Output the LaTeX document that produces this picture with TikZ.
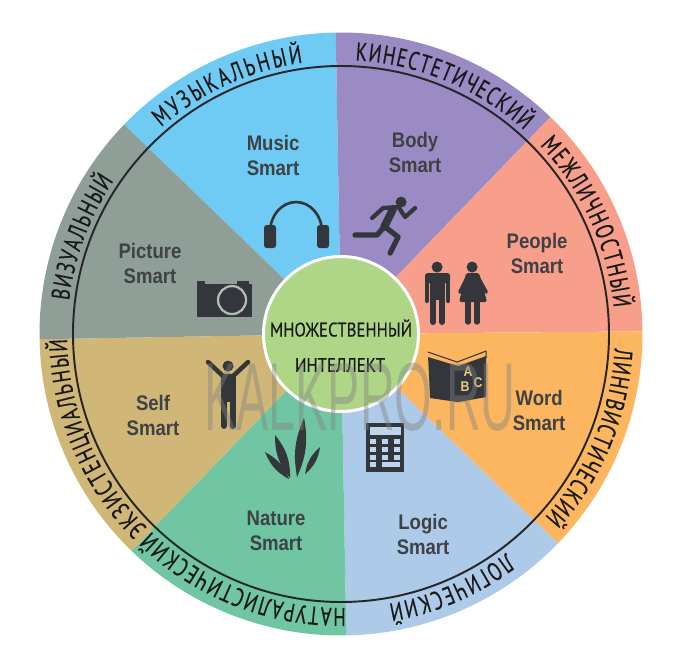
\documentclass[tikz,border=0pt]{standalone}
\usepackage{fontspec}
\usetikzlibrary{decorations.text}
\newfontfamily\ringfont[FakeStretch=.72,FakeBold=.4]{PT Sans}
\newfontfamily\coreFont[FakeStretch=.85,FakeBold=.4]{PT Sans}
\newfontfamily\labelfont[FakeStretch=.88]{Liberation Sans}
\newfontfamily\markfont[FakeStretch=.5]{Liberation Sans}
\definecolor{music_blue}{HTML}{6FCBF3}
\definecolor{body_violet}{HTML}{9A8BC5}
\definecolor{people_pink}{HTML}{F79F8A}
\definecolor{word_orange}{HTML}{FCB660}
\definecolor{logic_blue}{HTML}{AECAE9}
\definecolor{nature_green}{HTML}{70C6A2}
\definecolor{self_tan}{HTML}{D1B777}
\definecolor{picture_grey}{HTML}{8F9F97}
\definecolor{core_green}{HTML}{AFD687}
\definecolor{icon_dark}{HTML}{33363A}
\definecolor{label_dark}{HTML}{3E4246}
\definecolor{book_yellow}{HTML}{EBCB80}
\begin{document}
\begin{tikzpicture}
  \tikzset{
    ring_line/.style={draw=black!85, line width=1.1pt},
    icon_fill/.style={fill=icon_dark},
    icon_line/.style={draw=icon_dark, line cap=round, line join=round},
    smart_label/.style={align=center, text=label_dark, font=\labelfont\bfseries\fontsize{12}{14.2}\selectfont},
    core_label/.style={text=black!90, font=\coreFont\fontsize{11.2}{12}\selectfont},
    ring_label/.style={decorate, decoration={text along path, text align={fit to path}, text={|\ringfont\fontsize{14.6}{15}\selectfont\color{black!90}|#1}}}
  }
  \useasboundingbox (-6.82,-6.74) rectangle (6.94,6.68);

  % sectors
  \foreach \from/\to/\col in {136/91/music_blue, 91/46/body_violet, 46/0.5/people_pink, 0.5/-44/word_orange,
    -44/-89/logic_blue, -89/-134/nature_green, -134/-179/self_tan, 181/136/picture_grey}
    \fill[\col] (0,0) -- (\from:6.03) arc[start angle=\from, end angle=\to, radius=6.03] -- cycle;

  % ring and its words
  \draw[ring_line] (0,0) circle (5.36);
  \foreach \from/\to/\word in {131/98/МУЗЫКАЛЬНЫЙ, 87/48/КИНЕСТЕТИЧЕСКИЙ, 43.5/5.5/МЕЖЛИЧНОСТНЫЙ, -3/-42/ЛИНГВИСТИЧЕСКИЙ,
    -53/-80/ЛОГИЧЕСКИЙ, -89/-134/НАТУРАЛИСТИЧЕСКИЙ, -135/-179/ЭКЗИСТЕНЦИАЛЬНЫЙ, 173/146/ВИЗУАЛЬНЫЙ}
    \path[ring_label=\word] (\from:5.48) arc[start angle=\from, end angle=\to, radius=5.48];

  % middle
  \node[circle, fill=core_green, draw=white, line width=1.7pt, minimum size=3.1cm, inner sep=0pt] (core) at (0,0) {};

  % everything below is in pixels of the sheet
  \begin{scope}[shift={(-6.82,6.68)}, x=0.02cm, y=-0.02cm]
    \node[core_label] (core_top) at (341,328) {МНОЖЕСТВЕННЫЙ};
    \node[core_label] (core_bottom) at (340,365) {ИНТЕЛЛЕКТ};

    % labels
    \node[smart_label] (lbl_music) at (273,155) {Music\\Smart};
    \node[smart_label] (lbl_body) at (415,152) {Body\\Smart};
    \node[smart_label] (lbl_people) at (537,253) {People\\Smart};
    \node[smart_label] (lbl_word) at (539,410) {Word\\Smart};
    \node[smart_label] (lbl_logic) at (423,534) {Logic\\Smart};
    \node[smart_label] (lbl_nature) at (276,531) {Nature\\Smart};
    \node[smart_label] (lbl_self) at (153,415) {Self\\Smart};
    \node[smart_label] (lbl_picture) at (150,263) {Picture\\Smart};

    % headphones
    \draw[icon_line, line width=1.5pt] (270,232) arc[start angle=180, end angle=360, x radius=26, y radius=30];
    \fill[icon_fill, rounded corners=1.5pt] (264,225) rectangle (276,248);
    \fill[icon_fill, rounded corners=1.5pt] (317,225) rectangle (329,248);

    % runner
    \fill[icon_fill] (401,202) circle (5.5);
    \draw[icon_line, line width=2.4pt] (372,218) -- (383,208) -- (397,207);
    \draw[icon_line, line width=2.4pt] (399,208) -- (405,217) -- (415,208);
    \draw[icon_line, line width=4.5pt] (393,209) -- (384,227);
    \draw[icon_line, line width=3pt] (383,228) -- (377,235) -- (355,235);
    \draw[icon_line, line width=3pt] (384,226) -- (398,237) -- (390,253);

    % people
    \fill[icon_fill] (437,267) circle (5.5);
    \fill[icon_fill, rounded corners=1.5pt] (425,273) rectangle (450,283);
    \fill[icon_fill] (430,275) rectangle (445,300);
    \draw[icon_line, line width=2.4pt] (427,277) -- (427,301);
    \draw[icon_line, line width=2.4pt] (448,277) -- (448,301);
    \draw[icon_line, line width=3.4pt] (433,298) -- (433,322);
    \draw[icon_line, line width=3.4pt] (442,298) -- (442,322);
    \fill[icon_fill] (472,267) circle (5.5);
    \fill[icon_fill, rounded corners=1pt] (466,273) -- (479,273) -- (487,302) -- (459,302) -- cycle;
    \draw[icon_line, line width=2.2pt] (468,276) -- (460,292);
    \draw[icon_line, line width=2.2pt] (477,276) -- (486,292);
    \draw[icon_line, line width=3pt] (468,300) -- (468,322);
    \draw[icon_line, line width=3pt] (477,300) -- (477,322);

    % book
    \draw[icon_line, line width=.6pt] (428,352) -- (457,362) -- (486,351) -- (486,358);
    \fill[icon_fill] (428,357) -- (458,366) -- (458,402) -- (430,398) -- cycle;
    \fill[icon_fill] (458,366) -- (486,356) -- (486,397) -- (458,402) -- cycle;
    \foreach \ch/\px/\py in {A/468/372, B/465/387, C/478/383}
      \node[text=book_yellow, inner sep=0pt, font=\labelfont\bfseries\fontsize{8}{8}\selectfont] (book_\ch) at (\px,\py) {\ch};

    % calculator
    \fill[icon_fill] (366,423) rectangle (404,472);
    \fill[logic_blue!80!white] (370,427) rectangle (401,435);
    \foreach \px in {373,385,397}
      \foreach \py in {441,449,457}
        \fill[logic_blue!80!white] (\px-3,\py-2.5) rectangle (\px+3,\py+2.5);
    \fill[logic_blue!80!white] (370,462) rectangle (376,467);
    \fill[logic_blue!80!white] (382,462) rectangle (400,467);

    % plant
    \foreach \bx/\by/\tx/\ty/\swell in {297/477/304/418/17, 290/478/275/435/20, 289/479/265/452/20, 305/474/320/447/20}
      \fill[icon_fill] (\bx,\by) to[bend left=\swell] (\tx,\ty) to[bend left=\swell] cycle;

    % self
    \fill[icon_fill] (228,366) circle (5.5);
    \draw[icon_line, line width=2.6pt] (208,362) -- (223,376) -- (233,376) -- (248,362);
    \fill[icon_fill] (221,375) rectangle (236,402);
    \draw[icon_line, line width=3.2pt] (224,400) -- (224,426);
    \draw[icon_line, line width=3.2pt] (233,400) -- (233,426);

    % camera
    \fill[icon_fill] (197,284) rectangle (252,317);
    \fill[icon_fill] (197,281) rectangle (205,286);
    \fill[icon_fill] (237,281) rectangle (249,286);
    \draw[draw=picture_grey!70!white, line width=1.3pt] (232,300) circle (14);

    % watermark
    \node[text=gray, text opacity=.42, font=\markfont\fontsize{55}{55}\selectfont] (mark) at (360,397) {KALKPRO.RU};
  \end{scope}
\end{tikzpicture}
\end{document}
